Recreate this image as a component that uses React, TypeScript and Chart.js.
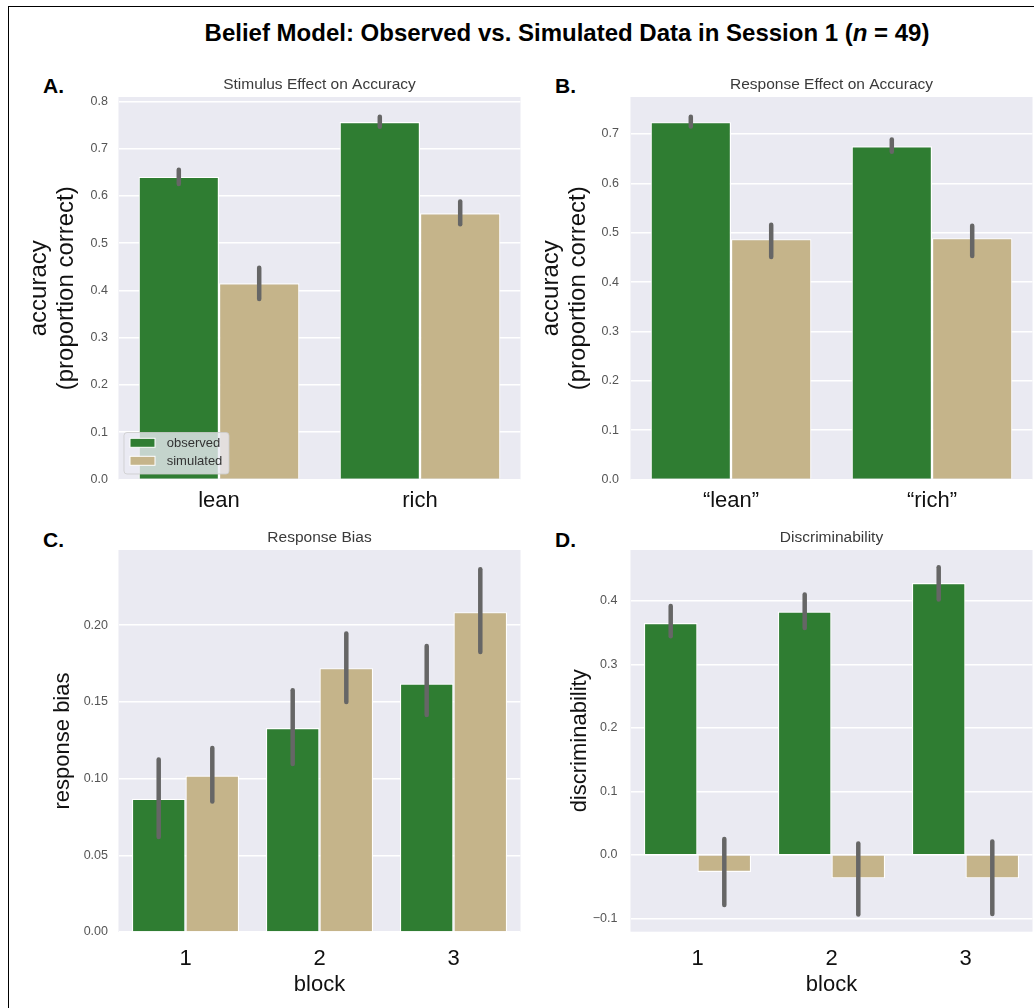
import React, { useEffect, useRef } from "react";
import { Chart, registerables } from "chart.js";

Chart.register(...registerables);

const FONT = "'Liberation Sans', Arial, Helvetica, sans-serif";
const GREEN = "#2f7d32";
const TAN = "#c5b48a";
const PLOT_BG = "#eaeaf2";
const ERR = "#666666";

const seriesNames = ["observed", "simulated"];

// Panel A: stimulus effect on accuracy
const stimCategories = ["lean", "rich"];
const stimObserved = [0.64, 0.756];
const stimObservedLow = [0.625, 0.746];
const stimObservedHigh = [0.655, 0.767];
const stimSimulated = [0.415, 0.563];
const stimSimulatedLow = [0.382, 0.54];
const stimSimulatedHigh = [0.448, 0.588];
const stimYTicks = [0, 0.1, 0.2, 0.3, 0.4, 0.5, 0.6, 0.7, 0.8];

// Panel B: response effect on accuracy
const respCategories = ["\u201clean\u201d", "\u201crich\u201d"];
const respObserved = [0.724, 0.675];
const respObservedLow = [0.715, 0.664];
const respObservedHigh = [0.735, 0.689];
const respSimulated = [0.487, 0.489];
const respSimulatedLow = [0.451, 0.453];
const respSimulatedHigh = [0.516, 0.514];
const respYTicks = [0, 0.1, 0.2, 0.3, 0.4, 0.5, 0.6, 0.7];

// Panel C: response bias per block
const blockCategories = ["1", "2", "3"];
const biasObserved = [0.0868, 0.133, 0.162];
const biasObservedLow = [0.062, 0.1095, 0.1415];
const biasObservedHigh = [0.1125, 0.1575, 0.1865];
const biasSimulated = [0.102, 0.172, 0.2085];
const biasSimulatedLow = [0.085, 0.15, 0.1825];
const biasSimulatedHigh = [0.12, 0.1945, 0.2365];
const biasYTicks = [0, 0.05, 0.1, 0.15, 0.2];

// Panel D: discriminability per block
const discObserved = [0.365, 0.383, 0.428];
const discObservedLow = [0.344, 0.357, 0.402];
const discObservedHigh = [0.392, 0.41, 0.453];
const discSimulated = [-0.027, -0.037, -0.037];
const discSimulatedLow = [-0.079, -0.094, -0.093];
const discSimulatedHigh = [0.025, 0.018, 0.021];
const discYTicks = [-0.1, 0, 0.1, 0.2, 0.3, 0.4];

type Panel = {
  key: string;
  canvas: { left: number; top: number; width: number; height: number };
  area: { left: number; right: number; top: number; bottom: number };
  categories: string[];
  observed: number[];
  obsLow: number[];
  obsHigh: number[];
  simulated: number[];
  simLow: number[];
  simHigh: number[];
  yMin: number;
  yMax: number;
  yTicks: number[];
  decimals: number;
  title: string;
  yLabel: string[];
  yLabelFont: number;
  yLabelBase: number[];
  xLabel?: string;
  xLabelBase?: number;
  xTickPad: number;
  yTickPad: number;
  legend: boolean;
};

const panels: Panel[] = [
  {
    key: "A",
    canvas: { left: 0, top: 50, width: 525, height: 470 },
    area: { left: 118.5, right: 520.5, top: 47, bottom: 429.5 },
    categories: stimCategories,
    observed: stimObserved,
    obsLow: stimObservedLow,
    obsHigh: stimObservedHigh,
    simulated: stimSimulated,
    simLow: stimSimulatedLow,
    simHigh: stimSimulatedHigh,
    yMin: 0,
    yMax: 0.809,
    yTicks: stimYTicks,
    decimals: 1,
    title: "Stimulus Effect on Accuracy",
    yLabel: ["accuracy", "(proportion correct)"],
    yLabelFont: 24,
    yLabelBase: [73, 45.5],
    xTickPad: 8.5,
    yTickPad: 10.5,
    legend: true,
  },
  {
    key: "B",
    canvas: { left: 525, top: 50, width: 509, height: 470 },
    area: { left: 105.5, right: 507.5, top: 47, bottom: 429.5 },
    categories: respCategories,
    observed: respObserved,
    obsLow: respObservedLow,
    obsHigh: respObservedHigh,
    simulated: respSimulated,
    simLow: respSimulatedLow,
    simHigh: respSimulatedHigh,
    yMin: 0,
    yMax: 0.775,
    yTicks: respYTicks,
    decimals: 1,
    title: "Response Effect on Accuracy",
    yLabel: ["accuracy", "(proportion correct)"],
    yLabelFont: 24,
    yLabelBase: [73, 45.5],
    xTickPad: 8.5,
    yTickPad: 11.5,
    legend: false,
  },
  {
    key: "C",
    canvas: { left: 0, top: 520, width: 525, height: 488 },
    area: { left: 118.5, right: 520.5, top: 30, bottom: 412 },
    categories: blockCategories,
    observed: biasObserved,
    obsLow: biasObservedLow,
    obsHigh: biasObservedHigh,
    simulated: biasSimulated,
    simLow: biasSimulatedLow,
    simHigh: biasSimulatedHigh,
    yMin: 0,
    yMax: 0.249,
    yTicks: biasYTicks,
    decimals: 2,
    title: "Response Bias",
    yLabel: ["response bias"],
    yLabelFont: 22,
    yLabelBase: [50],
    xLabel: "block",
    xLabelBase: 59,
    xTickPad: 14,
    yTickPad: 10.5,
    legend: false,
  },
  {
    key: "D",
    canvas: { left: 525, top: 520, width: 509, height: 488 },
    area: { left: 105.5, right: 507.5, top: 30, bottom: 411.7 },
    categories: blockCategories,
    observed: discObserved,
    obsLow: discObservedLow,
    obsHigh: discObservedHigh,
    simulated: discSimulated,
    simLow: discSimulatedLow,
    simHigh: discSimulatedHigh,
    yMin: -0.121,
    yMax: 0.48,
    yTicks: discYTicks,
    decimals: 1,
    title: "Discriminability",
    yLabel: ["discriminability"],
    yLabelFont: 22,
    yLabelBase: [45],
    xLabel: "block",
    xLabelBase: 59,
    xTickPad: 14,
    yTickPad: 13,
    legend: false,
  },
];

function fmt(v: number, d: number) {
  const s = Math.abs(v).toFixed(d);
  return v < -1e-9 ? "\u2212" + s : s;
}

function PanelChart({ p }: { p: Panel }) {
  const ref = useRef<HTMLCanvasElement | null>(null);
  useEffect(() => {
    const canvas = ref.current;
    if (!canvas) return;
    const W = p.canvas.width;
    const H = p.canvas.height;
    const lows = [p.obsLow, p.simLow];
    const highs = [p.obsHigh, p.simHigh];

    const decor = {
      id: "decor" + p.key,
      beforeDraw(chart: any) {
        const { ctx, chartArea: a } = chart;
        ctx.save();
        ctx.fillStyle = PLOT_BG;
        ctx.fillRect(a.left, a.top, a.right - a.left, a.bottom - a.top);
        ctx.restore();
      },
      afterDatasetsDraw(chart: any) {
        const { ctx } = chart;
        const ys = chart.scales.y;
        ctx.save();
        ctx.strokeStyle = ERR;
        ctx.lineWidth = 4.5;
        ctx.lineCap = "round";
        for (let i = 0; i < 2; i++) {
          const meta = chart.getDatasetMeta(i);
          meta.data.forEach((bar: any, j: number) => {
            ctx.beginPath();
            ctx.moveTo(bar.x, ys.getPixelForValue(lows[i][j]));
            ctx.lineTo(bar.x, ys.getPixelForValue(highs[i][j]));
            ctx.stroke();
          });
        }
        ctx.restore();
      },
      afterDraw(chart: any) {
        const { ctx, chartArea: a } = chart;
        const cx = (a.left + a.right) / 2;
        const cy = (a.top + a.bottom) / 2;
        ctx.save();
        ctx.textAlign = "center";
        ctx.textBaseline = "alphabetic";
        ctx.fillStyle = "#3a3a3a";
        ctx.font = `15.5px ${FONT}`;
        ctx.fillText(p.title, cx, a.top - 8);

        ctx.fillStyle = "#111111";
        ctx.font = `${p.yLabelFont}px ${FONT}`;
        p.yLabel.forEach((line, i) => {
          ctx.save();
          ctx.translate(a.left - p.yLabelBase[i], cy);
          ctx.rotate(-Math.PI / 2);
          ctx.fillText(line, 0, 0);
          ctx.restore();
        });

        if (p.xLabel) {
          ctx.font = `22px ${FONT}`;
          ctx.fillText(p.xLabel, cx, a.bottom + (p.xLabelBase || 0));
        }

        if (p.legend) {
          const bx = a.left + 5.5;
          const bw = 105;
          const bh = 41.5;
          const by = a.bottom - 5.5 - bh;
          ctx.beginPath();
          const r = 3;
          ctx.moveTo(bx + r, by);
          ctx.lineTo(bx + bw - r, by);
          ctx.arcTo(bx + bw, by, bx + bw, by + r, r);
          ctx.lineTo(bx + bw, by + bh - r);
          ctx.arcTo(bx + bw, by + bh, bx + bw - r, by + bh, r);
          ctx.lineTo(bx + r, by + bh);
          ctx.arcTo(bx, by + bh, bx, by + bh - r, r);
          ctx.lineTo(bx, by + r);
          ctx.arcTo(bx, by, bx + r, by, r);
          ctx.closePath();
          ctx.fillStyle = "rgba(234,234,242,0.8)";
          ctx.fill();
          ctx.strokeStyle = "rgba(204,204,204,0.8)";
          ctx.lineWidth = 1;
          ctx.stroke();
          const colors = [GREEN, TAN];
          ctx.font = `13px ${FONT}`;
          ctx.textAlign = "left";
          ctx.textBaseline = "middle";
          seriesNames.forEach((name, i) => {
            const rowY = by + 10.3 + i * 18;
            ctx.fillStyle = colors[i];
            ctx.fillRect(bx + 6, rowY - 4.5, 25, 9);
            ctx.strokeStyle = "#ffffff";
            ctx.lineWidth = 1;
            ctx.strokeRect(bx + 6, rowY - 4.5, 25, 9);
            ctx.fillStyle = "#333333";
            ctx.fillText(name, bx + 42.7, rowY + 0.5);
          });
        }
        ctx.restore();
      },
    };

    const chart = new Chart(canvas, {
      type: "bar",
      data: {
        labels: p.categories,
        datasets: [
          {
            label: seriesNames[0],
            data: p.observed,
            backgroundColor: GREEN,
            borderColor: "#ffffff",
            borderWidth: 1.2,
            categoryPercentage: 0.8,
            barPercentage: 1.0,
          },
          {
            label: seriesNames[1],
            data: p.simulated,
            backgroundColor: TAN,
            borderColor: "#ffffff",
            borderWidth: 1.2,
            categoryPercentage: 0.8,
            barPercentage: 1.0,
          },
        ],
      },
      options: {
        responsive: false,
        animation: false,
        devicePixelRatio: 1,
        layout: {
          padding: {
            left: 0,
            top: p.area.top,
            right: W - p.area.right,
            bottom: 0,
          },
        },
        plugins: {
          legend: { display: false },
          tooltip: { enabled: false },
          title: { display: false },
        },
        scales: {
          x: {
            grid: { display: false, drawTicks: false },
            border: { display: false },
            ticks: {
              color: "#111111",
              font: { family: FONT, size: 22 },
              padding: p.xTickPad,
              maxRotation: 0,
              autoSkip: false,
            },
            afterFit: (s: any) => {
              s.height = H - p.area.bottom;
            },
          },
          y: {
            min: p.yMin,
            max: p.yMax,
            grid: { color: "#ffffff", lineWidth: 1.5, drawTicks: false },
            border: { display: false },
            ticks: {
              color: "#555555",
              font: { family: FONT, size: 12.5 },
              padding: p.yTickPad,
              includeBounds: false,
              callback: (v: any) => fmt(Number(v), p.decimals),
            },
            afterBuildTicks: (s: any) => {
              s.ticks = p.yTicks.map((v) => ({ value: v }));
            },
            afterFit: (s: any) => {
              s.width = p.area.left;
            },
          },
        },
      },
      plugins: [decor],
    } as any);
    return () => chart.destroy();
  }, [p]);

  return (
    <canvas
      ref={ref}
      width={p.canvas.width}
      height={p.canvas.height}
      style={{
        position: "absolute",
        left: p.canvas.left,
        top: p.canvas.top,
        width: p.canvas.width,
        height: p.canvas.height,
      }}
    />
  );
}

const letters = [
  { t: "A.", left: 43, top: 74 },
  { t: "B.", left: 555, top: 74 },
  { t: "C.", left: 43, top: 528 },
  { t: "D.", left: 555, top: 528 },
];

export default function App() {
  useEffect(() => {
    document.body.style.overflow = "hidden";
  }, []);
  return (
    <div
      style={{
        position: "absolute",
        left: 0,
        top: 0,
        width: 1034,
        height: 1008,
        overflow: "hidden",
        background: "#ffffff",
        fontFamily: FONT,
      }}
    >
      <div
        style={{
          position: "absolute",
          left: 8,
          top: 6,
          width: 1200,
          height: 1200,
          borderTop: "1.5px solid #000",
          borderLeft: "1.5px solid #000",
        }}
      />
      <div
        style={{
          position: "absolute",
          left: 0,
          top: 19,
          width: 1134,
          textAlign: "center",
          fontWeight: "bold",
          fontSize: 24,
          lineHeight: "28px",
          color: "#000",
          whiteSpace: "nowrap",
        }}
      >
        Belief Model: Observed vs. Simulated Data in Session 1 (<i>n</i> = 49)
      </div>
      {letters.map((l) => (
        <div
          key={l.t}
          style={{
            position: "absolute",
            left: l.left,
            top: l.top,
            fontWeight: "bold",
            fontSize: 21,
            lineHeight: "24px",
            color: "#000",
          }}
        >
          {l.t}
        </div>
      ))}
      {panels.map((p) => (
        <PanelChart key={p.key} p={p} />
      ))}
    </div>
  );
}
